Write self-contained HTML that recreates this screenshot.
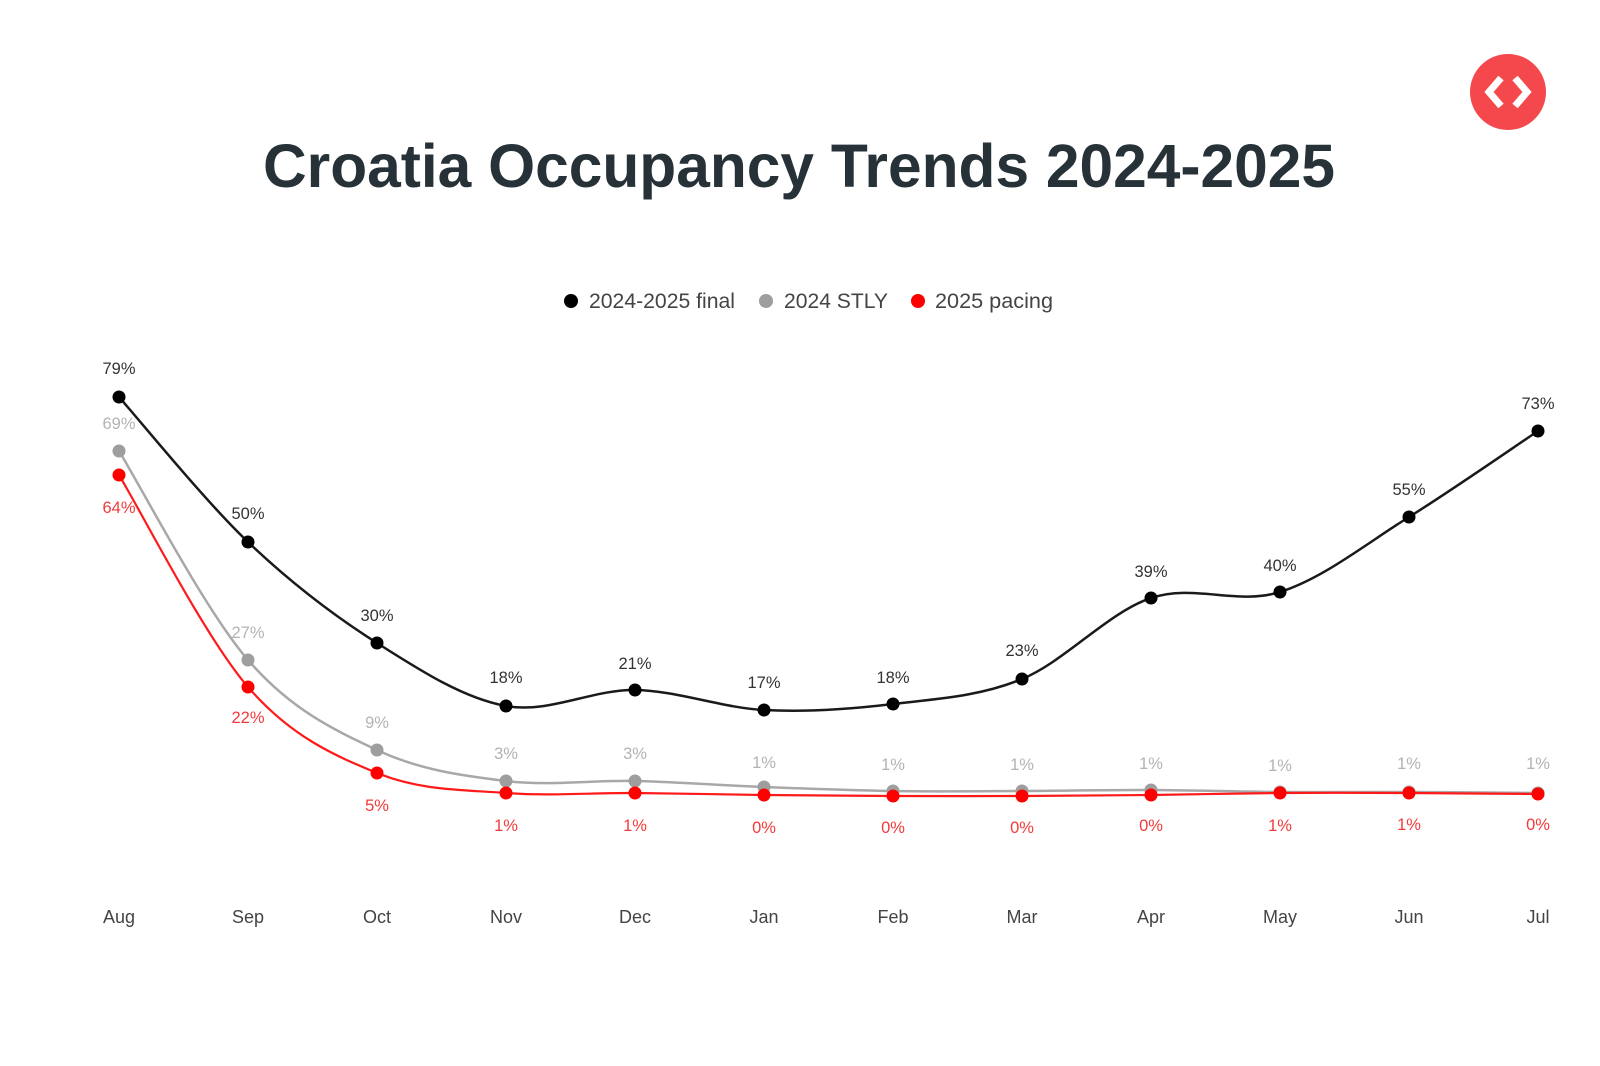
<!DOCTYPE html>
<html>
<head>
<meta charset="utf-8">
<style>
  html,body{margin:0;padding:0;background:#ffffff;}
  body{width:1600px;height:1066px;overflow:hidden;}
  svg{display:block;}
  .lbl{font-family:"Liberation Sans",Arial,sans-serif;font-size:16.5px;text-anchor:middle;}
  .lb{fill:#333333;}
  .lg{fill:#b3b3b3;}
  .lr{fill:#f23a3a;}
  .ax{font-family:"Liberation Sans",Arial,sans-serif;font-size:18px;fill:#444444;text-anchor:middle;}
  .leg{font-family:"Liberation Sans",Arial,sans-serif;font-size:21.5px;fill:#444444;}
</style>
</head>
<body>
<svg width="1600" height="1066" viewBox="0 0 1600 1066" xmlns="http://www.w3.org/2000/svg">
  <rect x="0" y="0" width="1600" height="1066" fill="#ffffff"/>

  <!-- Logo -->
  <circle cx="1508" cy="92" r="38" fill="#f4484c"/>
  <polyline points="1501,78 1489,92 1501,106" fill="none" stroke="#ffffff" stroke-width="7" stroke-linejoin="miter" stroke-linecap="butt"/>
  <polyline points="1515,78 1527,92 1515,106" fill="none" stroke="#ffffff" stroke-width="7" stroke-linejoin="miter" stroke-linecap="butt"/>

  <!-- Title -->
  <text x="263" y="187" textLength="1072" lengthAdjust="spacingAndGlyphs" font-family="'Liberation Sans', Arial, sans-serif" font-weight="bold" font-size="61" fill="#263238">Croatia Occupancy Trends 2024-2025</text>

  <!-- Legend -->
  <circle cx="571" cy="301" r="7" fill="#000000"/>
  <text class="leg" x="589" y="308" textLength="146" lengthAdjust="spacingAndGlyphs">2024-2025 final</text>
  <circle cx="766" cy="301" r="7" fill="#9e9e9e"/>
  <text class="leg" x="784" y="308" textLength="104" lengthAdjust="spacingAndGlyphs">2024 STLY</text>
  <circle cx="918" cy="301" r="7" fill="#ff0000"/>
  <text class="leg" x="935" y="308" textLength="118" lengthAdjust="spacingAndGlyphs">2025 pacing</text>

  <!-- Black line -->
  <path d="M119,397 C140.5,421.2 205,501 248,542 C291,583 334,615.7 377,643 C420,670.3 463,698.2 506,706 C549,713.8 592,689.3 635,690 C678,690.7 721,707.7 764,710 C807,712.3 850,709.2 893,704 C936,698.8 979,696.7 1022,679 C1065,661.3 1108,612.5 1151,598 C1194,583.5 1237,605.5 1280,592 C1323,578.5 1366,543.8 1409,517 C1452,490.2 1516.5,445.3 1538,431" fill="none" stroke="#1a1a1a" stroke-width="2.5"/>

  <!-- Gray line -->
  <path d="M119,451 C140.5,485.8 205,610.2 248,660 C291,709.8 334,729.8 377,750 C420,770.2 463,775.8 506,781 C549,786.2 592,780 635,781 C678,782 721,785.3 764,787 C807,788.7 850,790.3 893,791 C936,791.7 979,791.2 1022,791 C1065,790.8 1108,789.8 1151,790 C1194,790.2 1237,791.7 1280,792 C1323,792.3 1366,791.8 1409,792 C1452,792.2 1516.5,792.8 1538,793" fill="none" stroke="#a8a8a8" stroke-width="2.5"/>

  <!-- Red line -->
  <path d="M119,475 C140.5,510.3 205,637.3 248,687 C291,736.7 334,755.3 377,773 C420,790.7 463,789.7 506,793 C549,796.3 592,792.7 635,793 C678,793.3 721,794.5 764,795 C807,795.5 850,795.8 893,796 C936,796.2 979,796.2 1022,796 C1065,795.8 1108,795.5 1151,795 C1194,794.5 1237,793.3 1280,793 C1323,792.7 1366,792.8 1409,793 C1452,793.2 1516.5,794 1538,794" fill="none" stroke="#ff1a1a" stroke-width="2.2"/>

  <!-- Gray points -->
  <g fill="#9e9e9e">
    <circle cx="119" cy="451" r="6.5"/>
    <circle cx="248" cy="660" r="6.5"/>
    <circle cx="377" cy="750" r="6.5"/>
    <circle cx="506" cy="781" r="6.5"/>
    <circle cx="635" cy="781" r="6.5"/>
    <circle cx="764" cy="787" r="6.5"/>
    <circle cx="893" cy="791" r="6.5"/>
    <circle cx="1022" cy="791" r="6.5"/>
    <circle cx="1151" cy="790" r="6.5"/>
    <circle cx="1280" cy="792" r="6.5"/>
    <circle cx="1409" cy="792" r="6.5"/>
    <circle cx="1538" cy="793" r="6.5"/>
  </g>
  <!-- Red points -->
  <g fill="#ff0000">
    <circle cx="119" cy="475" r="6.5"/>
    <circle cx="248" cy="687" r="6.5"/>
    <circle cx="377" cy="773" r="6.5"/>
    <circle cx="506" cy="793" r="6.5"/>
    <circle cx="635" cy="793" r="6.5"/>
    <circle cx="764" cy="795" r="6.5"/>
    <circle cx="893" cy="796" r="6.5"/>
    <circle cx="1022" cy="796" r="6.5"/>
    <circle cx="1151" cy="795" r="6.5"/>
    <circle cx="1280" cy="793" r="6.5"/>
    <circle cx="1409" cy="793" r="6.5"/>
    <circle cx="1538" cy="794" r="6.5"/>
  </g>
  <!-- Black points -->
  <g fill="#000000">
    <circle cx="119" cy="397" r="6.5"/>
    <circle cx="248" cy="542" r="6.5"/>
    <circle cx="377" cy="643" r="6.5"/>
    <circle cx="506" cy="706" r="6.5"/>
    <circle cx="635" cy="690" r="6.5"/>
    <circle cx="764" cy="710" r="6.5"/>
    <circle cx="893" cy="704" r="6.5"/>
    <circle cx="1022" cy="679" r="6.5"/>
    <circle cx="1151" cy="598" r="6.5"/>
    <circle cx="1280" cy="592" r="6.5"/>
    <circle cx="1409" cy="517" r="6.5"/>
    <circle cx="1538" cy="431" r="6.5"/>
  </g>

  <!-- Black labels -->
  <g class="lbl lb">
    <text x="119" y="374">79%</text>
    <text x="248" y="519">50%</text>
    <text x="377" y="621">30%</text>
    <text x="506" y="683">18%</text>
    <text x="635" y="669">21%</text>
    <text x="764" y="688">17%</text>
    <text x="893" y="683">18%</text>
    <text x="1022" y="656">23%</text>
    <text x="1151" y="577">39%</text>
    <text x="1280" y="571">40%</text>
    <text x="1409" y="495">55%</text>
    <text x="1538" y="409">73%</text>
  </g>
  <!-- Gray labels -->
  <g class="lbl lg">
    <text x="119" y="429">69%</text>
    <text x="248" y="638">27%</text>
    <text x="377" y="728">9%</text>
    <text x="506" y="759">3%</text>
    <text x="635" y="759">3%</text>
    <text x="764" y="768">1%</text>
    <text x="893" y="770">1%</text>
    <text x="1022" y="770">1%</text>
    <text x="1151" y="769">1%</text>
    <text x="1280" y="771">1%</text>
    <text x="1409" y="769">1%</text>
    <text x="1538" y="769">1%</text>
  </g>
  <!-- Red labels -->
  <g class="lbl lr">
    <text x="119" y="513">64%</text>
    <text x="248" y="723">22%</text>
    <text x="377" y="811">5%</text>
    <text x="506" y="831">1%</text>
    <text x="635" y="831">1%</text>
    <text x="764" y="833">0%</text>
    <text x="893" y="833">0%</text>
    <text x="1022" y="833">0%</text>
    <text x="1151" y="831">0%</text>
    <text x="1280" y="831">1%</text>
    <text x="1409" y="830">1%</text>
    <text x="1538" y="830">0%</text>
  </g>

  <!-- X axis labels -->
  <g class="ax">
    <text x="119" y="923">Aug</text>
    <text x="248" y="923">Sep</text>
    <text x="377" y="923">Oct</text>
    <text x="506" y="923">Nov</text>
    <text x="635" y="923">Dec</text>
    <text x="764" y="923">Jan</text>
    <text x="893" y="923">Feb</text>
    <text x="1022" y="923">Mar</text>
    <text x="1151" y="923">Apr</text>
    <text x="1280" y="923">May</text>
    <text x="1409" y="923">Jun</text>
    <text x="1538" y="923">Jul</text>
  </g>
</svg>
</body>
</html>
